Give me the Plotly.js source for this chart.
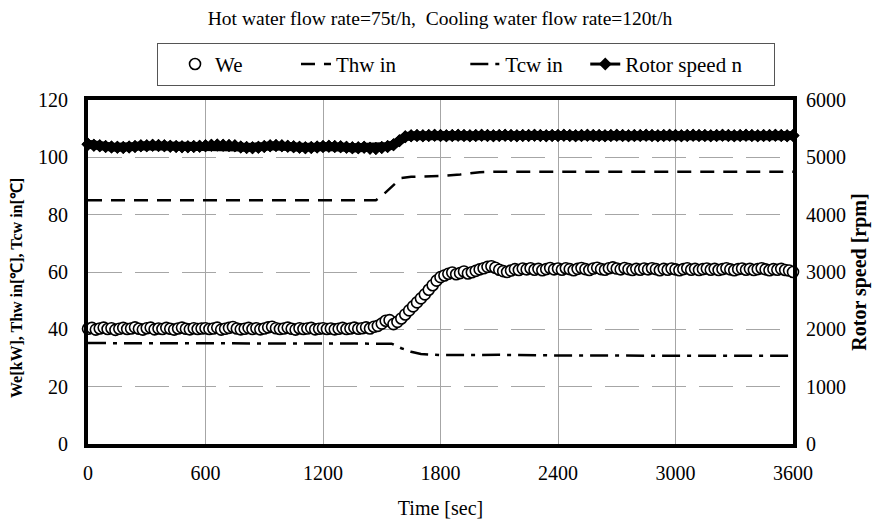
<!DOCTYPE html>
<html>
<head>
<meta charset="utf-8">
<script src="https://cdn.plot.ly/plotly-3.0.1.min.js"></script>
<style>body{margin:0;padding:0;background:#fff}#chart{width:880px;height:519px}</style>
</head>
<body>
<div id="chart"></div>
<script>
// We [kW], sampled every 20 s from 0 to 3600 s (181 samples)
const weStart = 0;
const weStep = 20;
const weValues = [
  40.2,40.5,39.9,40.3,40.6,40.1,40.4,39.8,40.2,40.5,
  40.1,40.3,40.7,40.2,39.9,40.4,40.6,40.0,40.3,40.1,
  40.5,40.2,39.9,40.3,40.6,40.2,40.0,40.4,40.1,40.3,
  40.4,40.1,40.3,40.6,39.9,40.2,40.5,40.8,40.3,40.0,
  40.2,40.5,40.1,40.4,40.0,40.3,40.7,40.9,40.4,40.1,
  40.3,40.6,40.2,39.9,40.4,40.1,40.3,40.5,40.0,40.2,
  40.4,40.1,40.3,40.0,40.2,40.5,40.1,40.3,40.6,40.2,
  40.4,40.7,40.3,40.9,41.2,42.0,43.0,43.2,41.8,42.6,
  43.8,45.2,46.6,48.0,49.4,50.8,52.2,53.8,55.4,57.0,
  58.2,58.8,59.4,59.8,59.2,59.6,60.2,59.5,59.9,60.4,
  60.9,61.3,61.8,62.0,61.5,60.8,60.3,60.0,60.5,61.0,
  60.7,61.2,60.9,61.3,60.8,61.1,60.6,61.0,61.4,60.9,
  61.2,60.8,61.3,61.0,60.6,61.1,61.4,61.0,60.7,61.2,
  61.5,61.0,60.8,61.3,61.6,61.2,60.9,61.4,61.0,60.7,
  61.1,60.8,61.2,60.9,61.3,61.0,60.6,61.1,60.8,61.2,
  60.9,60.6,61.0,61.3,60.8,61.1,60.7,61.0,61.2,60.8,
  61.1,60.7,61.0,61.3,60.9,60.6,61.0,61.2,60.8,61.1,
  60.7,61.0,61.3,60.9,60.6,61.0,60.8,61.1,60.7,60.5,
  60.0
];

// Rotor speed n [rpm], sampled every 30 s from 0 to 3600 s (121 samples)
const rotorStart = 0;
const rotorStep = 30;
const rotorValues = [
  5230,5210,5200,5190,5180,5175,5170,5180,5190,5200,
  5200,5210,5205,5200,5195,5190,5185,5185,5190,5195,
  5200,5210,5215,5210,5205,5200,5180,5170,5165,5175,
  5190,5200,5205,5200,5195,5185,5175,5165,5170,5180,
  5190,5195,5190,5185,5175,5165,5165,5175,5160,5155,
  5170,5190,5220,5290,5360,5375,5380,5375,5380,5385,
  5380,5375,5380,5385,5380,5375,5380,5385,5380,5375,
  5380,5385,5380,5375,5380,5380,5385,5380,5375,5380,
  5380,5385,5380,5375,5380,5385,5380,5380,5375,5380,
  5385,5380,5375,5380,5380,5385,5380,5375,5380,5385,
  5380,5375,5380,5385,5380,5380,5375,5380,5385,5380,
  5375,5380,5385,5380,5375,5380,5380,5385,5380,5375,
  5380
];

// Thw in [°C]
const thwTime  = [0, 1470, 1500, 1560, 1600, 1650, 1800, 1900, 2000, 2100, 2400, 2700, 3000, 3600];
const thwValues = [85, 85, 86.5, 90.5, 92.8, 93.2, 93.5, 94.0, 94.8, 95.0, 95.0, 95.1, 95.0, 95.0];

// Tcw in [°C]
const tcwTime  = [0, 1500, 1550, 1600, 1650, 1700, 1800, 2100, 2400, 3000, 3600];
const tcwValues = [35.2, 35.2, 35.0, 33.4, 32.2, 31.4, 31.0, 31.1, 30.9, 30.8, 30.8];

const xTicks = [0, 600, 1200, 1800, 2400, 3000, 3600];
const seriesNames = ['We', 'Thw in', 'Tcw in', 'Rotor speed n'];

const FONT = 'Liberation Serif';
const NB = '\u00a0';
const pad = n => NB.repeat(n);

const traces = [
  {
    name: seriesNames[0] + pad(6), x0: weStart, dx: weStep, y: weValues,
    type: 'scatter', mode: 'markers', cliponaxis: false,
    marker: {symbol: 'circle', size: 11, color: '#ffffff', line: {color: '#000000', width: 1.6}}
  },
  {
    name: seriesNames[1] + pad(9), x: thwTime, y: thwValues,
    type: 'scatter', mode: 'lines',
    line: {color: '#000000', width: 2.5, dash: '14px,9px'}
  },
  {
    name: seriesNames[2], x: tcwTime, y: tcwValues,
    type: 'scatter', mode: 'lines',
    line: {color: '#000000', width: 2.5, dash: '18px,7px,4px,7px'}
  },
  {
    // thick band of rotor speed (not in legend)
    name: 'rotor band', showlegend: false, x0: rotorStart, dx: rotorStep, y: rotorValues,
    yaxis: 'y2', type: 'scatter', mode: 'lines+markers', cliponaxis: false,
    line: {color: '#000000', width: 9},
    marker: {symbol: 'diamond', size: 10, color: '#000000'}
  },
  {
    name: seriesNames[3] + pad(5), x0: rotorStart, dx: rotorStep, y: rotorValues,
    yaxis: 'y2', type: 'scatter', mode: 'lines+markers', cliponaxis: false,
    line: {color: '#000000', width: 3},
    marker: {symbol: 'diamond', size: 10, color: '#000000'}
  }
];

const layout = {
  width: 880, height: 519,
  margin: {l: 88, r: 87, t: 100, b: 75},
  paper_bgcolor: '#ffffff', plot_bgcolor: '#ffffff',
  font: {family: FONT, size: 20, color: '#000000'},
  showlegend: true,
  title: {
    text: 'Hot water flow rate=75t/h,  Cooling water flow rate=120t/h',
    font: {family: FONT, size: 19.5, color: '#000000'},
    x: 0.5, xanchor: 'center', y: 0.965, yanchor: 'middle'
  },
  legend: {
    orientation: 'h', x: 0.0979, xanchor: 'left', y: 1.166, yanchor: 'top',
    bordercolor: '#555555', borderwidth: 1, bgcolor: '#ffffff',
    indentation: 17,
    font: {family: FONT, size: 21, color: '#000000'},
    traceorder: 'normal'
  },
  annotations: [{
    text: '<b>We[kW], Thw in[℃], Tcw in[℃]</b>',
    xref: 'paper', yref: 'paper', x: -0.1007, y: 0.4535,
    xanchor: 'center', yanchor: 'middle', textangle: -90, showarrow: false,
    font: {family: FONT, size: 16, color: '#000000'}
  }],
  xaxis: {
    range: [0, 3600], tickvals: xTicks, ticktext: xTicks.map(String),
    showgrid: true, gridcolor: '#a6a6a6', gridwidth: 1,
    showline: true, linecolor: '#000000', linewidth: 4, mirror: true,
    zeroline: false, ticks: '', ticklabelstandoff: 8,
    tickfont: {family: FONT, size: 20},
    title: {text: 'Time [sec]', font: {family: FONT, size: 20}, standoff: 19}
  },
  yaxis: {
    range: [0, 120], dtick: 20,
    showgrid: true, gridcolor: '#a6a6a6', gridwidth: 1, griddash: '34px,13px',
    showline: true, linecolor: '#000000', linewidth: 4, mirror: true,
    zeroline: false, ticks: '', ticklabelstandoff: 12,
    tickfont: {family: FONT, size: 20}
  },
  yaxis2: {
    range: [0, 6000], dtick: 1000, overlaying: 'y', side: 'right',
    showgrid: false, zeroline: false, showline: false, ticks: '', ticklabelstandoff: 12,
    tickfont: {family: FONT, size: 20},
    title: {text: '<b>Rotor speed [rpm]</b>', font: {family: FONT, size: 20}, standoff: 6}
  }
};

Plotly.newPlot('chart', traces, layout, {displayModeBar: false, staticPlot: true});
</script>
</body>
</html>
